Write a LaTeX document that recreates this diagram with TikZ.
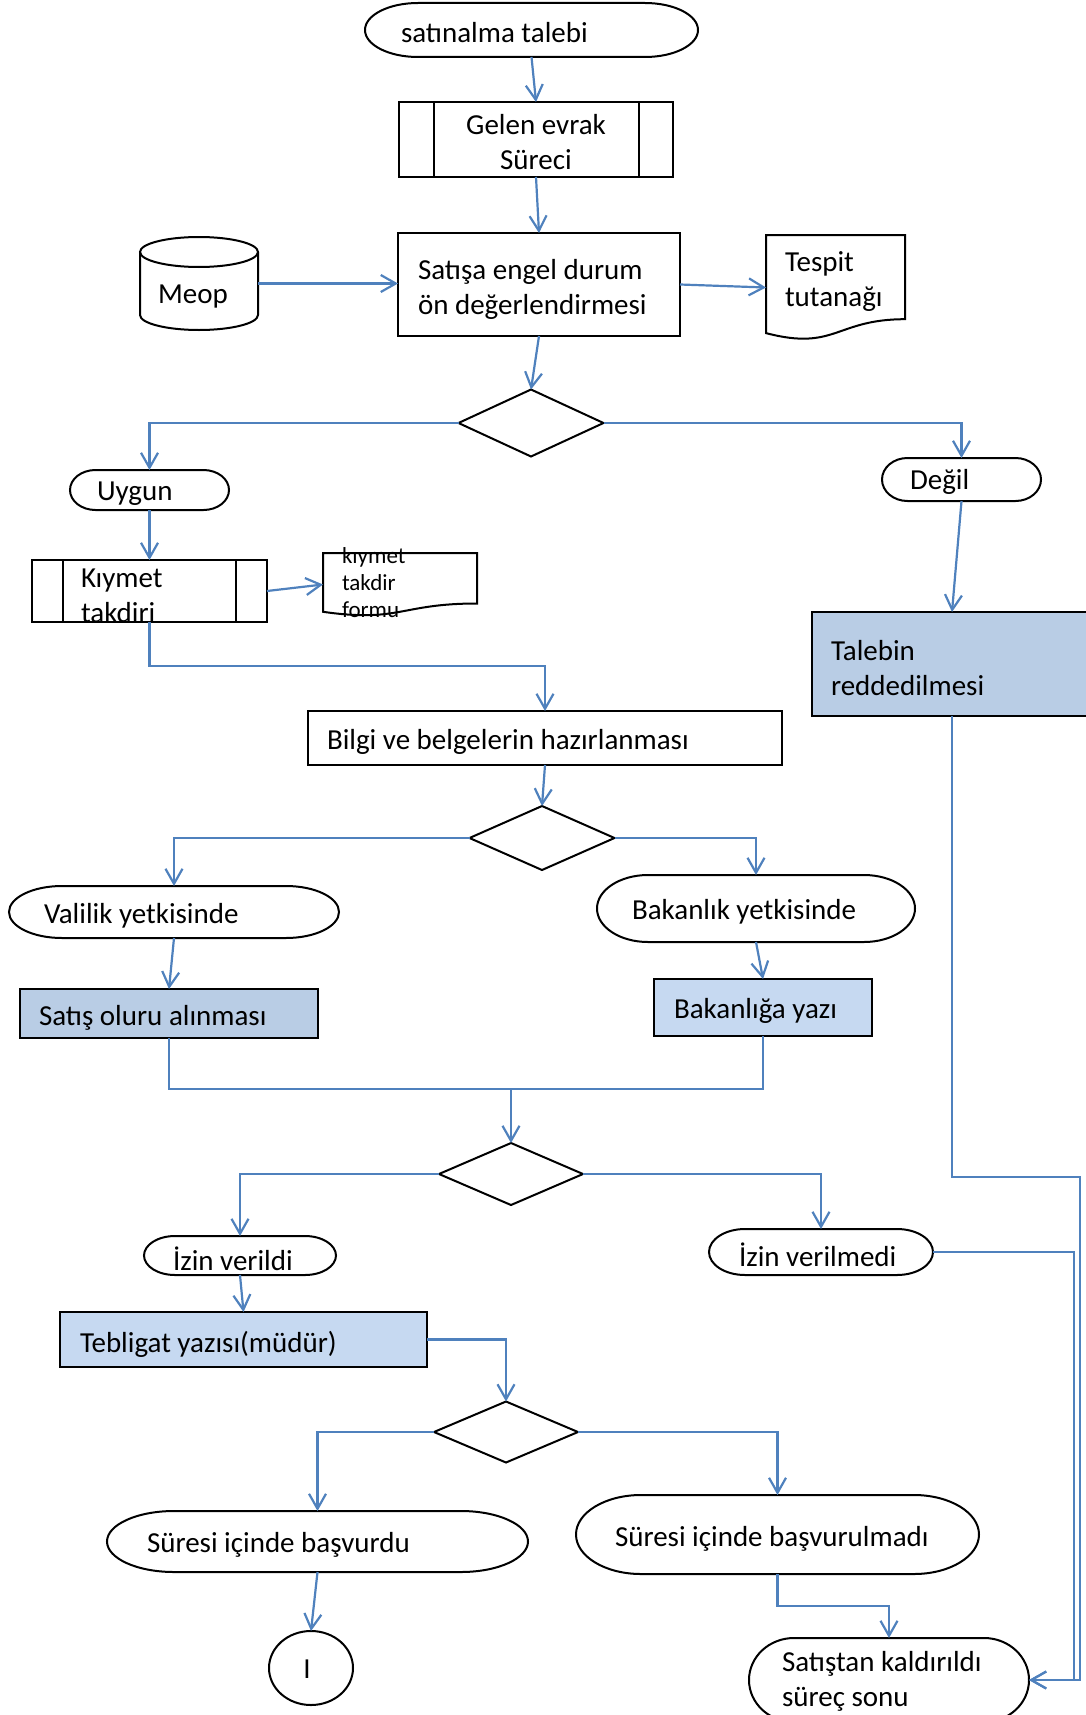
\documentclass[tikz,border=0pt]{standalone}
\usepackage{fontspec}
\setmainfont{Carlito}
\usetikzlibrary{arrows.meta,shapes.geometric,calc}
\definecolor{lineblue}{HTML}{4F81BD}
\definecolor{fillA}{HTML}{B9CDE5}
\definecolor{fillB}{HTML}{C6D9F1}
\newcommand\mybig{\fontsize{29pt}{35pt}\selectfont}
\newcommand\mysmall{\fontsize{23pt}{27pt}\selectfont}
\newcommand\termout[3]{\draw[shp] ([xshift=#2pt]#1.north west) -- ([xshift=-#2pt]#1.north east) arc[start angle=90,end angle=-90,x radius=#2pt,y radius=#3pt] -- ([xshift=#2pt]#1.south west) arc[start angle=270,end angle=90,x radius=#2pt,y radius=#3pt] -- cycle;}
\begin{document}
\begin{tikzpicture}[x=1pt,y=-1pt,
  every node/.style={outer sep=0pt, inner sep=0pt},
  shp/.style={draw=black, line width=2pt},
  rbox/.style={rectangle, draw=black, line width=2pt},
  gbox/.style={rectangle, draw=none},
  dmd/.style={diamond, draw=black, line width=2pt},
  txt/.style={anchor=west, align=left, font=\mybig, yshift=-3pt},
  conn/.style={draw=lineblue, line width=2.2pt},
  arr/.style={conn, -{Straight Barb[length=15pt,width=17pt]}}]
\useasboundingbox (0,0) rectangle (1086,1715);

% start
\node[gbox, minimum width=333pt, minimum height=54pt] (sat) at (531.5,30) {};
\termout{sat}{53}{27}
\node[txt] (tsat) at (401,30) {satınalma talebi};

% gelen evrak
\node[rbox, minimum width=274pt, minimum height=75pt] (gelen) at (536,139.5) {};
\draw[shp] ([xshift=35pt]gelen.north west) -- ([xshift=35pt]gelen.south west);
\draw[shp] ([xshift=-34pt]gelen.north east) -- ([xshift=-34pt]gelen.south east);
\node[font=\mybig, align=center] (tgelen) at (536,142) {Gelen evrak\\Süreci};

% satisa engel
\node[rbox, minimum width=282pt, minimum height=103pt] (satisa) at (539,284.5) {};
\node[txt] (tsatisa) at (418,286) {Satışa engel durum\\ön değerlendirmesi};

% meop cylinder
\node[gbox, minimum width=118pt, minimum height=93pt] (meop) at (199,283.5) {};
\draw[shp] (199,252) ellipse [x radius=59pt, y radius=15pt];
\draw[shp] (140,252) -- (140,315) arc[start angle=180,end angle=360,x radius=59pt,y radius=15pt] -- (258,252);
\node[font=\mybig] (tmeop) at (193,297) {Meop};

% tespit tutanagi
\node[gbox, minimum width=139pt, minimum height=105pt] (tespit) at (835.5,287.5) {};
\draw[shp] (766,235) -- (905,235) -- (905,319.2) .. controls (835.5,319.2) and (835.5,351.3) .. (766,333.1) -- cycle;
\node[txt] (ttespit) at (785,279) {Tespit\\tutanağı};

% diamond 1
\node[dmd, minimum width=145pt, minimum height=67pt] (d1) at (531,423) {};

% uygun / degil
\node[gbox, minimum width=159pt, minimum height=40pt] (uygun) at (149.5,490) {};
\termout{uygun}{25.5}{20}
\node[txt] (tuygun) at (97,491) {Uygun};
\node[gbox, minimum width=159pt, minimum height=43pt] (degil) at (961.5,479.5) {};
\termout{degil}{25.5}{21.5}
\node[txt] (tdegil) at (910,479) {Değil};

% kiymet takdiri
\node[rbox, minimum width=235pt, minimum height=62pt] (kiymet) at (149.5,591) {};
\draw[shp] ([xshift=31pt]kiymet.north west) -- ([xshift=31pt]kiymet.south west);
\draw[shp] ([xshift=-31pt]kiymet.north east) -- ([xshift=-31pt]kiymet.south east);
\node[txt] (tkiymet) at (81,593) {Kıymet\\takdiri};

% form
\node[gbox, minimum width=154pt, minimum height=63pt] (form) at (400,584.5) {};
\draw[shp] (323,553) -- (477,553) -- (477,603.5) .. controls (400,603.5) and (400,622.8) .. (323,611.8) -- cycle;
\node[txt, font=\mysmall] (tform) at (342,580) {kıymet\\takdir\\formu};

% talebin reddedilmesi
\node[rbox, fill=fillA, minimum width=280pt, minimum height=104pt] (talebin) at (952,664) {};
\node[txt] (ttalebin) at (831,665) {Talebin\\reddedilmesi};

% bilgi
\node[rbox, minimum width=474pt, minimum height=54pt] (bilgi) at (545,738) {};
\node[txt] (tbilgi) at (327,739) {Bilgi ve belgelerin hazırlanması};

% diamond 2
\node[dmd, minimum width=145pt, minimum height=64pt] (d2) at (542,838) {};

% valilik / bakanlik
\node[gbox, minimum width=330pt, minimum height=52pt] (valilik) at (174,912) {};
\termout{valilik}{53}{26}
\node[txt] (tvalilik) at (44,913) {Valilik yetkisinde};
\node[gbox, minimum width=318pt, minimum height=67pt] (bakanlik) at (756,908.5) {};
\termout{bakanlik}{51}{33.5}
\node[txt] (tbakanlik) at (632,909) {Bakanlık yetkisinde};

% satis oluru / bakanliga yazi
\node[rbox, fill=fillA, minimum width=298pt, minimum height=49pt] (satis) at (169,1013.5) {};
\node[txt] (tsatis) at (39,1015) {Satış oluru alınması};
\node[rbox, fill=fillB, minimum width=218pt, minimum height=57pt] (bakyazi) at (763,1007.5) {};
\node[txt] (tbakyazi) at (674,1008) {Bakanlığa yazı};

\coordinate (m) at (511,1089);

% diamond 3
\node[dmd, minimum width=144pt, minimum height=62pt] (d3) at (511,1174) {};

% izin
\node[gbox, minimum width=192pt, minimum height=39pt] (izinv) at (240,1255.5) {};
\termout{izinv}{31}{19.5}
\node[txt] (tizinv) at (173,1256) {İzin verildi};
\node[gbox, minimum width=224pt, minimum height=46pt] (izinvm) at (821,1252) {};
\termout{izinvm}{36}{23}
\node[txt] (tizinvm) at (739,1252) {İzin verilmedi};

% tebligat
\node[rbox, fill=fillB, minimum width=367pt, minimum height=55pt] (teblig) at (243.5,1339.5) {};
\node[txt] (tteblig) at (80,1341) {Tebligat yazısı(müdür)};

% diamond 4
\node[dmd, minimum width=144pt, minimum height=61pt] (d4) at (506,1432) {};

% basvurdu / basvurulmadi
\node[gbox, minimum width=421pt, minimum height=61pt] (basvurdu) at (317.5,1541.5) {};
\termout{basvurdu}{67}{30.5}
\node[txt] (tbasvurdu) at (147,1542) {Süresi içinde başvurdu};
\node[gbox, minimum width=403pt, minimum height=79pt] (basvurulmadi) at (777.5,1534.5) {};
\termout{basvurulmadi}{65}{39.5}
\node[txt] (tbasvurulmadi) at (615,1536) {Süresi içinde başvurulmadı};

% I
\node[ellipse, draw=black, line width=2pt, minimum width=84pt, minimum height=74pt] (I) at (311,1668) {};
\node[font=\mybig] (tI) at (307,1669) {I};

% son
\node[gbox, minimum width=280pt, minimum height=84pt] (son) at (889,1680) {};
\termout{son}{45}{42}
\node[txt] (tson) at (782,1678) {Satıştan kaldırıldı\\süreç sonu};

\coordinate (rX) at (1074,0);
\coordinate (rY) at (1080,0);
\coordinate (tb) at (1080,1177);

% connectors
\draw[arr] (sat.south) -- (gelen.north);
\draw[arr] (gelen.south) -- (satisa.north);
\draw[arr] (meop.east) -- (meop.east -| satisa.west);
\draw[arr] (satisa.east) -- (tespit.west);
\draw[arr] (satisa.south) -- (d1.north);
\draw[arr] (d1.west) -| (uygun.north);
\draw[arr] (d1.east) -| (degil.north);
\draw[arr] (uygun.south) -- (kiymet.north);
\draw[arr] (kiymet.east) -- (form.west);
\draw[arr] (degil.south) -- (talebin.north);
\draw[arr] (kiymet.south) -- ++(0,44) -| (bilgi.north);
\draw[arr] (bilgi.south) -- (d2.north);
\draw[arr] (d2.west) -| (valilik.north);
\draw[arr] (d2.east) -| (bakanlik.north);
\draw[arr] (valilik.south) -- (satis.north);
\draw[arr] (bakanlik.south) -- (bakyazi.north);
\draw[conn] (satis.south) |- (m);
\draw[conn] (bakyazi.south) |- (m);
\draw[arr] (m) -- (d3.north);
\draw[arr] (d3.west) -| (izinv.north);
\draw[arr] (d3.east) -| (izinvm.north);
\draw[arr] (izinv.south) -- (teblig.north);
\draw[arr] (teblig.east) -| (d4.north);
\draw[arr] (d4.west) -| (basvurdu.north);
\draw[arr] (d4.east) -| (basvurulmadi.north);
\draw[arr] (basvurdu.south) -- (I.north);
\draw[arr] (basvurulmadi.south) -- ++(0,32) -| (son.north);
\draw[arr] (izinvm.east) -| (son.east -| rX) -- (son.east);
\draw[arr] (talebin.south) |- (tb) -- (son.east -| rY) -- (son.east);
\end{tikzpicture}
\end{document}
